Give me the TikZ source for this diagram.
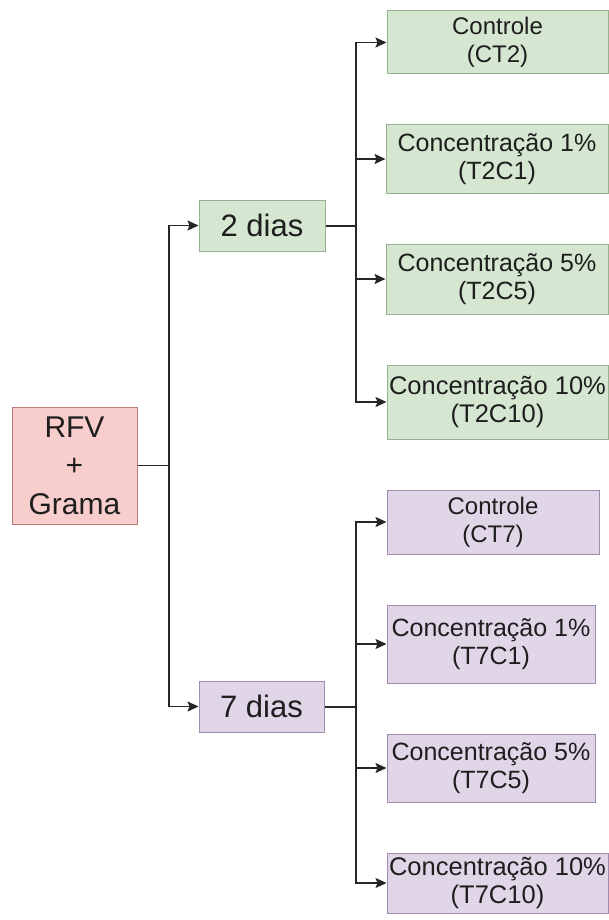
\documentclass[tikz,border=0pt]{standalone}
\usepackage{fontspec}
\setmainfont{Liberation Sans}
\usetikzlibrary{arrows.meta}
\definecolor{gfill}{RGB}{213,231,208}
\definecolor{gdraw}{RGB}{150,178,142}
\definecolor{pfill}{RGB}{225,214,231}
\definecolor{pdraw}{RGB}{160,140,172}
\definecolor{rfill}{RGB}{248,206,204}
\definecolor{rdraw}{RGB}{185,125,122}
\definecolor{txt}{RGB}{30,30,30}
\tikzset{
  box/.style={rectangle, inner sep=0pt, align=center, text=txt, line width=1pt},
  gbox/.style={box, fill=gfill, draw=gdraw},
  pbox/.style={box, fill=pfill, draw=pdraw},
  rbox/.style={box, fill=rfill, draw=rdraw},
  conn/.style={draw=black!85, line width=1.3pt},
  arr/.style={conn, -{Stealth[length=11pt,width=10pt,inset=2pt]}},
  small/.style={font=\fontsize{25}{28}\selectfont},
  big/.style={font=\fontsize{31}{38}\selectfont},
}
\begin{document}
\begin{tikzpicture}[x=1pt,y=-1pt]
\useasboundingbox (0,0) rectangle (609,920);
\fill[white] (0,0) rectangle (609,920);

\node[rbox, minimum width=125pt, minimum height=117pt, font=\fontsize{30}{38.5}\selectfont] (rfv) at (74.5,465.5) {RFV\\+\\Grama};
\node[gbox, big, minimum width=126pt, minimum height=51pt] (d2) at (262,225.5) {2 dias};
\node[pbox, big, minimum width=125pt, minimum height=51pt] (d7) at (261.5,706.5) {7 dias};

\node[gbox, font=\fontsize{24}{28}\selectfont, minimum width=221pt, minimum height=63pt] (g1) at (497.5,42.5) {Controle\\(CT2)};
\node[gbox, small, minimum width=222pt, minimum height=68pt] (g2) at (497,159) {Concentração 1\%\\(T2C1)};
\node[gbox, small, minimum width=222pt, minimum height=70pt] (g3) at (497,279) {Concentração 5\%\\(T2C5)};
\node[gbox, font=\fontsize{25.5}{28}\selectfont, minimum width=221pt, minimum height=74pt] (g4) at (497.5,402) {Concentração 10\%\\(T2C10)};

\node[pbox, font=\fontsize{24}{28}\selectfont, minimum width=212pt, minimum height=64pt] (p1) at (493,522) {Controle\\(CT7)};
\node[pbox, small, minimum width=208pt, minimum height=78pt] (p2) at (491,644) {Concentração 1\%\\(T7C1)};
\node[pbox, small, minimum width=208pt, minimum height=68pt] (p3) at (491,768) {Concentração 5\%\\(T7C5)};
\node[pbox, font=\fontsize{25.5}{28}\selectfont, minimum width=221pt, minimum height=60pt] (p4) at (497.5,883) {Concentração 10\%\\(T7C10)};

\coordinate (j1) at (169,465.5);
\coordinate (j2) at (356,225.5);
\coordinate (j7) at (356,706.5);

\draw[conn] (rfv.east) -- (j1);
\draw[arr] (j1) |- (d2.west);
\draw[arr] (j1) |- (d7.west);

\draw[conn, line width=2pt] (d2.east) -- (j2);
\draw[arr] (j2) |- (g1.west);
\draw[arr] (j2) |- (g2.west);
\draw[arr] (j2) |- (g3.west);
\draw[arr] (j2) |- (g4.west);

\draw[conn, line width=2pt] (d7.east) -- (j7);
\draw[arr] (j7) |- (p1.west);
\draw[arr] (j7) |- (p2.west);
\draw[arr] (j7) |- (p3.west);
\draw[arr] (j7) |- (p4.west);
\end{tikzpicture}
\end{document}
